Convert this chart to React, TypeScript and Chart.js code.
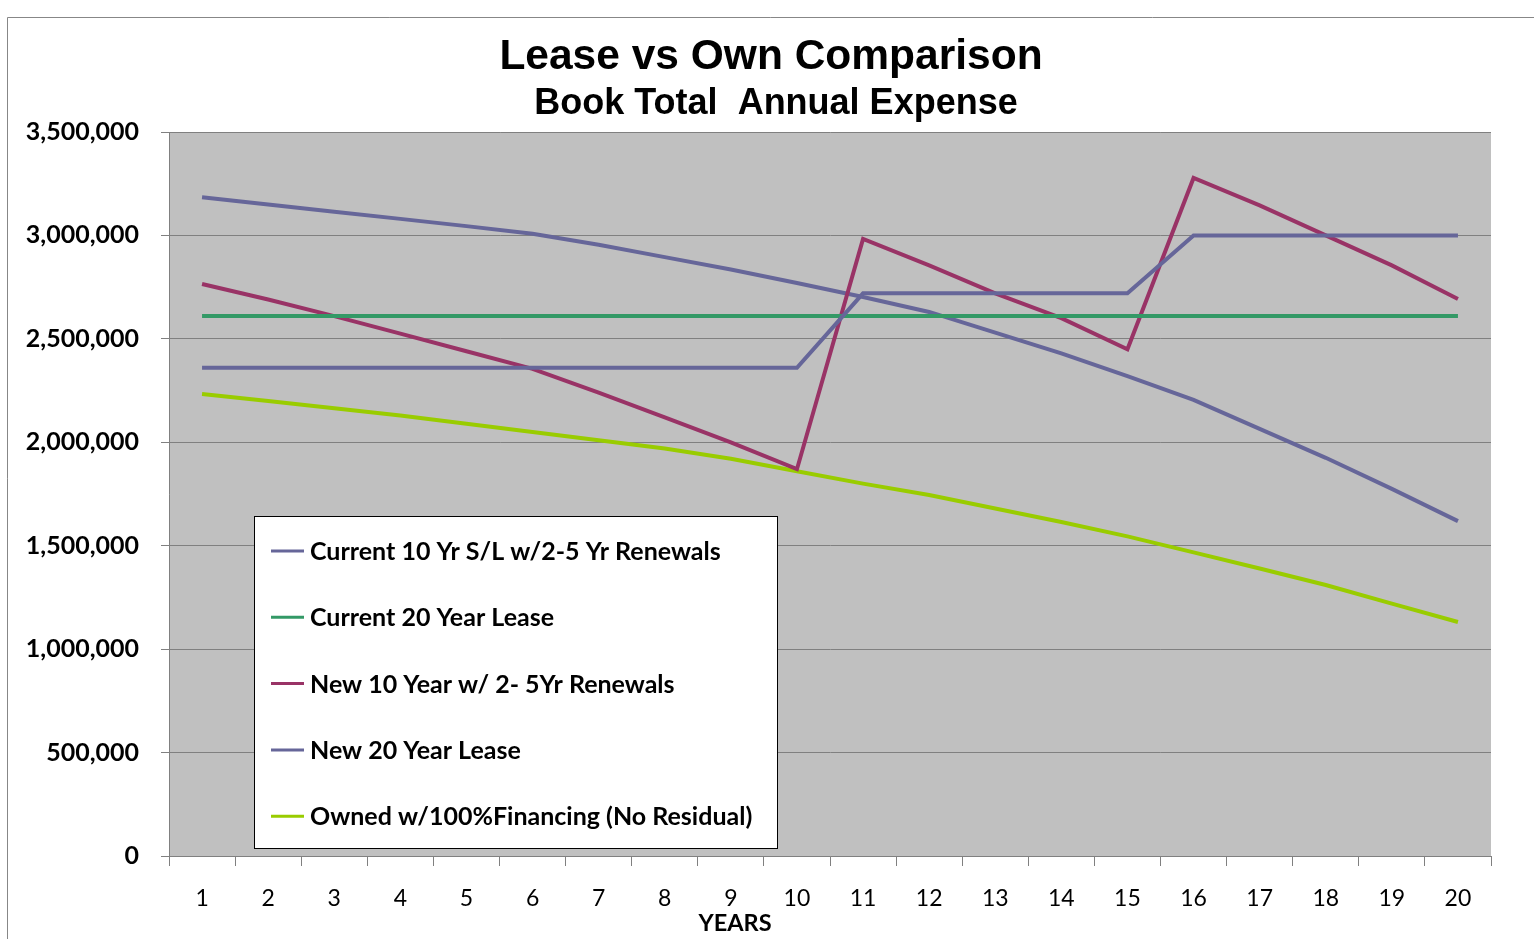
import React, { useEffect, useRef } from "react";
import { Chart, registerables } from "chart.js";

Chart.register(...registerables);

const years = ["1","2","3","4","5","6","7","8","9","10","11","12","13","14","15","16","17","18","19","20"];
const current10Yr = [2360000,2360000,2360000,2360000,2360000,2360000,2360000,2360000,2360000,2360000,2720000,2720000,2720000,2720000,2720000,3000000,3000000,3000000,3000000,3000000];
const current20Yr = [2610000,2610000,2610000,2610000,2610000,2610000,2610000,2610000,2610000,2610000,2610000,2610000,2610000,2610000,2610000,2610000,2610000,2610000,2610000,2610000];
const new10Yr = [2765000,2690000,2610000,2525000,2440000,2355000,2240000,2120000,2000000,1870000,2983000,2855000,2720000,2600000,2450000,3278000,3145000,3000000,2855000,2693000];
const new20Yr = [3185000,3150000,3115000,3080000,3045000,3008000,2955000,2895000,2835000,2770000,2702000,2630000,2530000,2430000,2320000,2205000,2065000,1925000,1775000,1619000];
const owned = [2233000,2200000,2165000,2130000,2090000,2050000,2010000,1970000,1920000,1860000,1800000,1745000,1680000,1615000,1545000,1468000,1390000,1310000,1220000,1131000];
const seriesLabels = ["Current 10 Yr S/L w/2-5 Yr Renewals","Current 20 Year Lease","New 10 Year w/ 2- 5Yr Renewals","New 20 Year Lease","Owned w/100%Financing (No Residual)"];
const seriesColors = ["#666699","#339966","#993366","#666699","#99CC00"];
const yTicksMax = 3500000;
const yStep = 500000;

const FONT = "Lato, 'Open Sans', sans-serif";

const decorPlugin = {
  id: "decor",
  beforeDraw(chart: any) {
    const { ctx, chartArea } = chart;
    ctx.save();
    ctx.fillStyle = "#ffffff";
    ctx.fillRect(0, 0, chart.width, chart.height);
    ctx.strokeStyle = "#878787";
    ctx.lineWidth = 1;
    ctx.beginPath();
    ctx.moveTo(7.5, chart.height);
    ctx.lineTo(7.5, 17.5);
    ctx.lineTo(chart.width, 17.5);
    ctx.stroke();
    ctx.fillStyle = "#C0C0C0";
    ctx.fillRect(chartArea.left, chartArea.top, chartArea.right - chartArea.left, chartArea.bottom - chartArea.top);
    ctx.restore();
  },
  afterDatasetsDraw(chart: any) {
    const { ctx } = chart;
    ctx.save();
    const bx = 254.5, by = 516.5, bw = 523, bh = 332;
    ctx.fillStyle = "#ffffff";
    ctx.fillRect(bx, by, bw, bh);
    ctx.strokeStyle = "#000000";
    ctx.lineWidth = 1;
    ctx.strokeRect(bx, by, bw, bh);
    ctx.font = `bold 25px ${FONT}`;
    ctx.textBaseline = "middle";
    ctx.textAlign = "left";
    chart.data.datasets.forEach((ds: any, i: number) => {
      const y = 551 + i * 66.3;
      ctx.strokeStyle = ds.borderColor;
      ctx.lineWidth = 3;
      ctx.beginPath();
      ctx.moveTo(271, y);
      ctx.lineTo(304, y);
      ctx.stroke();
      ctx.fillStyle = "#000000";
      ctx.fillText(ds.label, 310, y + 1);
    });
    ctx.restore();
  },
  afterDraw(chart: any) {
    const { ctx } = chart;
    ctx.save();
    ctx.fillStyle = "#000000";
    ctx.textAlign = "center";
    ctx.textBaseline = "middle";
    ctx.font = "bold 42.5px 'Liberation Sans', Arial, sans-serif";
    ctx.fillText("Lease vs Own Comparison", 771, 57);
    ctx.font = "bold 36px 'Liberation Sans', Arial, sans-serif";
    ctx.fillText("Book Total  Annual Expense", 776, 104);
    ctx.font = `bold 23.5px ${FONT}`;
    ctx.fillText("YEARS", 735, 923);
    ctx.restore();
  },
};

export default function App() {
  const ref = useRef<HTMLCanvasElement | null>(null);
  useEffect(() => {
    if (!ref.current) return;
    const datasets = [current10Yr, current20Yr, new10Yr, new20Yr, owned].map((d, i) => ({
      label: seriesLabels[i],
      data: d,
      borderColor: seriesColors[i],
      backgroundColor: seriesColors[i],
      borderWidth: 4,
      pointRadius: 0,
      tension: 0,
      fill: false,
    }));
    const chart = new Chart(ref.current, {
      type: "line",
      data: { labels: years, datasets },
      options: {
        animation: false,
        responsive: false,
        maintainAspectRatio: false,
        layout: { padding: { left: 0, right: 43, top: 132, bottom: 0 } },
        plugins: { legend: { display: false }, title: { display: false }, tooltip: { enabled: false } },
        scales: {
          x: {
            offset: true,
            grid: { offset: true, drawOnChartArea: false, drawTicks: true, tickLength: 10, color: "#808080" },
            border: { display: true, color: "#808080" },
            ticks: { color: "#000000", font: { family: FONT, size: 23 }, padding: 19, maxRotation: 0, autoSkip: false },
            afterFit: (s: any) => { s.height = 83; },
          },
          y: {
            min: 0,
            max: yTicksMax,
            grid: { color: "#808080", tickLength: 8 },
            border: { display: true, color: "#808080" },
            ticks: {
              stepSize: yStep,
              color: "#000000",
              font: { family: FONT, size: 25, weight: "bold" },
              padding: 22,
              callback: (v: any) => Number(v).toLocaleString("en-US"),
            },
            afterFit: (s: any) => { s.width = 169; },
          },
        },
      },
      plugins: [decorPlugin],
    });
    return () => chart.destroy();
  }, []);
  return (
    <div style={{ position: "absolute", left: 0, top: 0, width: 1534, height: 939 }}>
      <canvas ref={ref} width={1534} height={939} style={{ display: "block", width: 1534, height: 939 }} />
    </div>
  );
}
